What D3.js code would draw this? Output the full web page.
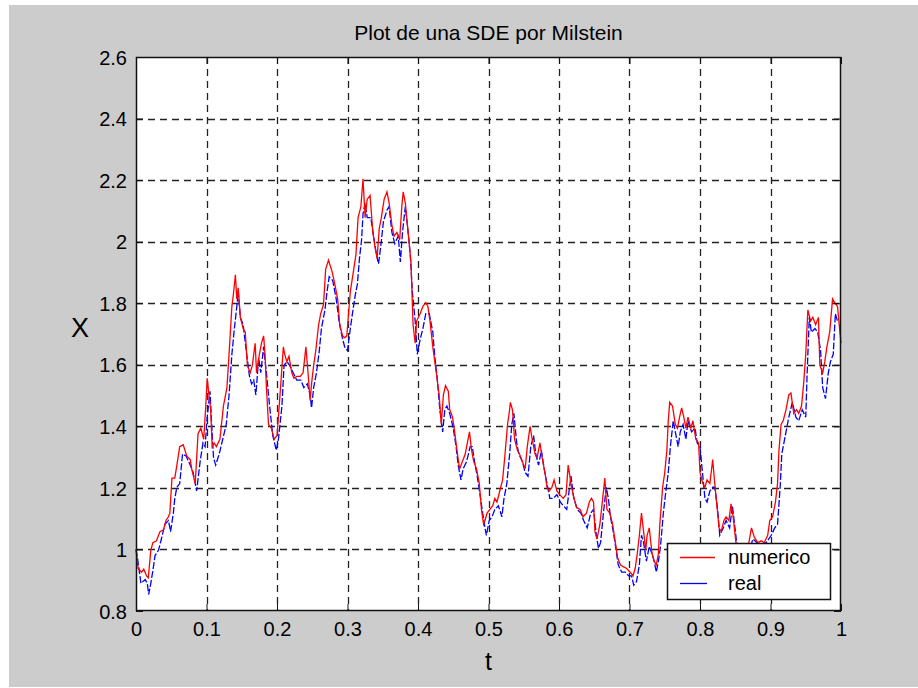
<!DOCTYPE html>
<html><head><meta charset="utf-8">
<script src="https://cdn.jsdelivr.net/npm/d3@7"></script>
<style>
html,body{margin:0;padding:0;background:#fff;}
svg{display:block;}
text{font-family:"Liberation Sans",Arial,sans-serif;fill:#000;}
</style></head>
<body>
<svg id="chart" width="918" height="688"></svg>
<script>
const title = "Plot de una SDE por Milstein";
const xLabel = "t";
const yLabel = "X";
const xTicks = [0,0.1,0.2,0.3,0.4,0.5,0.6,0.7,0.8,0.9,1];
const yTicks = [0.8,1,1.2,1.4,1.6,1.8,2,2.2,2.4,2.6];
const seriesNames = ["numerico","real"];

const tNum = [0,.003,.008,.011,.015,.0175,.021,.024,.029,.034,.039,.0425,.046,.048,.051,.055,.058,.062,.067,.072,.077,.079,.084,.088,.092,.096,.099,.101,.104,.106,.108,.111,.114,.119,.124,.129,.132,.136,.138,.141,.143,.145,.148,.152,.155,.158,.162,.165,.169,.171,.175,.178,.181,.183,.185,.188,.192,.196,.2,.202,.205,.209,.211,.214,.217,.221,.224,.228,.233,.237,.241,.244,.247,.249,.252,.255,.259,.262,.266,.269,.273,.278,.282,.286,.289,.293,.296,
.299,.304,.308,.312,.315,.319,.322,.325,.328,.332,.336,.339,.342,.345,.348,.352,.356,.359,.363,.366,.37,.374,.377,.379,.382,.385,.387,.39,.393,.396,.398,.403,.407,.411,.414,.417,.421,.426,.43,.433,.436,.439,.443,.445,.449,.452,.456,.459,.463,.467,.47,.473,.476,.479,.483,.487,.49,.493,.495,.498,.502,.506,.509,.512,.516,.52,.523,.527,.53,.531,.534,.537,.541,.544,.548,.552,.555,.559,.562,.566,.569,.573,.576,.58,.583,.586,.59,.593,.597,
.601,.606,.61,.613,.617,.62,.625,.63,.634,.639,.643,.646,.649,.651,.654,.658,.662,.665,.668,.672,.676,.68,.683,.687,.691,.696,.701,.705,.708,.711,.714,.717,.72,.723,.725,.728,.732,.735,.738,.741,.743,.747,.75,.753,.755,.757,.761,.765,.768,.771,.774,.777,.78,.783,.787,.79,.794,.798,.8,.804,.807,.81,.814,.818,.82,.824,.827,.83,.834,.837,.841,.844,.847,.851,.857,.866,.873,.877,.882,.887,.891,.896,.899,.903,.907,.91,.912,.915,.918,.922,.926,.929,.933,.937,.94,.944,.947,.95,.953,.957,.96,.964,.968,.97,.974,.977,.98,.984,.988,.991,.995,.998,1];
const xNum = [1.0,.938,.926,.936,.914,.908,.998,1.022,1.028,1.058,1.064,1.094,1.106,1.118,1.232,1.232,1.274,1.334,1.34,1.304,1.292,1.262,1.214,1.376,1.394,1.358,1.466,1.556,1.49,1.454,1.334,1.346,1.334,1.358,1.466,1.526,1.634,1.79,1.826,1.892,1.814,1.85,1.754,1.718,1.706,1.598,1.574,1.598,1.67,1.574,1.634,1.67,1.694,1.634,1.526,1.406,1.394,1.358,1.37,1.43,1.526,1.658,1.634,1.61,1.628,1.574,1.556,1.562,1.562,1.574,1.658,1.574,1.484,1.538,1.598,1.646,1.73,1.766,1.796,1.91,1.94,1.904,1.862,1.814,1.73,1.694,1.688,
1.694,1.838,1.898,1.958,2.078,2.114,2.204,2.078,2.138,2.15,2.03,1.982,1.946,2.042,2.078,2.138,2.162,2.126,2.054,2.018,2.03,2.006,2.114,2.162,2.126,2.054,2.006,1.934,1.73,1.67,1.742,1.766,1.79,1.802,1.79,1.742,1.658,1.574,1.502,1.406,1.502,1.532,1.514,1.454,1.43,1.382,1.31,1.262,1.286,1.31,1.346,1.382,1.322,1.286,1.262,1.214,1.13,1.082,1.094,1.118,1.13,1.142,1.166,1.154,1.19,1.226,1.298,1.406,1.454,1.478,1.454,1.358,1.322,1.31,1.286,1.262,1.334,1.4,1.358,1.31,1.298,1.346,1.298,1.25,1.202,1.19,1.202,1.226,1.19,
1.178,1.166,1.178,1.274,1.214,1.178,1.136,1.13,1.106,1.118,1.154,1.166,1.154,1.058,1.034,1.082,1.166,1.232,1.13,1.118,1.082,1.022,.974,.95,.944,.938,.926,.914,.938,.986,1.046,1.118,1.058,.998,1.046,1.07,.986,.962,.95,.986,1.082,1.202,1.25,1.322,1.418,1.478,1.466,1.406,1.394,1.43,1.46,1.43,1.394,1.43,1.394,1.418,1.358,1.346,1.25,1.214,1.202,1.226,1.214,1.292,1.238,1.142,1.07,1.058,1.094,1.106,1.094,1.148,1.106,1.022,1.0,.98,1.07,1.04,1.022,1.028,1.022,1.046,1.094,1.106,1.154,1.214,1.322,1.406,1.418,1.454,1.502,1.508,1.442,1.454,1.442,1.466,1.538,1.634,1.778,1.742,1.754,1.73,1.754,1.598,1.574,1.61,1.658,1.706,1.814,1.802,1.79,1.718,1.67];

const tReal = [0,.002,.007,.013,.016,.018,.021,.024,.027,.032,.036,.041,.046,.049,.053,.055,.058,.062,.066,.071,.077,.081,.086,.091,.095,.098,.101,.105,.107,.11,.113,.118,.123,.128,.132,.136,.139,.143,.145,.148,.152,.157,.161,.164,.167,.17,.174,.177,.181,.185,.189,.194,.199,.202,.207,.21,.214,.218,.223,.228,.234,.238,.243,.247,.249,.252,.256,.26,.263,.268,.271,.274,.279,.284,.288,.292,.296,.3,.304,.307,.311,.314,.317,.32,.322,
.325,.328,.333,.337,.341,.344,.347,.351,.356,.359,.363,.367,.372,.375,.378,.382,.385,.389,.392,.396,.399,.403,.407,.411,.416,.421,.424,.427,.431,.435,.438,.441,.445,.45,.454,.457,.461,.464,.469,.474,.477,.481,.484,.488,.491,.495,.497,.501,.505,.509,.514,.519,.522,.526,.53,.533,.536,.54,.543,.548,.552,.556,.56,.564,.567,.571,.575,.579,.583,.587,.592,.597,.602,.606,
.611,.617,.621,.626,.631,.635,.64,.645,.649,.653,.656,.659,.663,.667,.67,.673,.677,.681,.684,.689,.694,.699,.703,.706,.71,.714,.717,.72,.724,.728,.732,.735,.738,.741,.744,.748,.751,.755,.758,.762,.766,.769,.772,.776,.78,.783,.788,.793,.796,.8,.804,.807,.81,.814,.818,.821,.825,.828,.833,.837,.842,.846,.849,.852,.86,.868,.875,.884,.894,.901,.906,.91,.914,.916,.921,.926,.931,.936,.94,.945,.95,.952,.955,.958,.963,.967,.971,.974,.978,.982,.985,.989,.992,.995];
const xReal = [1.0,.974,.89,.902,.89,.854,.89,.932,.98,.998,1.034,1.082,1.094,1.058,1.118,1.166,1.202,1.214,1.31,1.304,1.274,1.25,1.19,1.286,1.346,1.334,1.43,1.514,1.418,1.298,1.274,1.31,1.358,1.406,1.502,1.634,1.706,1.79,1.838,1.754,1.73,1.634,1.562,1.538,1.55,1.502,1.622,1.574,1.658,1.574,1.478,1.37,1.322,1.358,1.466,1.598,1.61,1.598,1.574,1.55,1.55,1.526,1.538,1.502,1.46,1.526,1.574,1.646,1.718,1.778,1.838,1.886,1.874,1.814,1.742,1.694,1.658,1.646,1.718,1.766,1.826,1.862,1.946,2.006,2.09,
2.126,2.078,2.078,2.018,1.958,1.928,1.982,2.066,2.102,2.114,2.03,1.994,2.018,1.934,2.03,2.114,2.054,1.958,1.838,1.742,1.634,1.682,1.718,1.766,1.766,1.706,1.622,1.562,1.454,1.382,1.454,1.466,1.442,1.394,1.334,1.274,1.226,1.262,1.286,1.334,1.334,1.274,1.238,1.178,1.13,1.07,1.046,1.094,1.106,1.13,1.142,1.106,1.166,1.214,1.31,1.406,1.442,1.346,1.31,1.286,1.25,1.238,1.334,1.37,1.31,1.274,1.322,1.262,1.214,1.166,1.166,1.178,1.154,1.142,
1.13,1.238,1.166,1.13,1.118,1.094,1.07,1.118,1.13,1.046,1.004,1.022,1.118,1.202,1.166,1.106,1.058,.998,.95,.926,.926,.914,.914,.884,.896,.95,1.046,1.022,.962,1.01,.986,.962,.926,.962,1.01,1.118,1.178,1.25,1.334,1.418,1.37,1.334,1.382,1.406,1.358,1.418,1.382,1.394,1.346,1.334,1.238,1.166,1.154,1.19,1.202,1.202,1.13,1.046,1.07,1.094,1.07,1.142,1.082,1.022,.99,.98,1.034,1.016,1.022,1.046,1.07,1.082,1.214,1.31,1.37,1.43,1.478,1.43,1.418,1.454,1.43,1.574,1.754,1.706,1.718,1.706,1.646,1.526,1.49,1.574,1.61,1.634,1.766,1.742];

const svg = d3.select("#chart");
const L = 136, R = 841, T = 57, B = 611;

// figure background
svg.append("rect").attr("x",0).attr("y",0).attr("width",918).attr("height",688).attr("fill","#ffffff");
svg.append("rect").attr("x",9).attr("y",5).attr("width",909).attr("height",682).attr("fill","#cccccc");

const x = d3.scaleLinear().domain([0,1]).range([L,R]);
const y = d3.scaleLinear().domain([0.8,2.6]).range([B,T]);

svg.append("rect").attr("x",L).attr("y",T).attr("width",R-L).attr("height",B-T).attr("fill","#ffffff");

const plot = svg.append("g");
// grid
plot.append("g").selectAll("line").data(xTicks.slice(1,-1)).join("line")
  .attr("x1",d=>Math.round(x(d))+0.5).attr("x2",d=>Math.round(x(d))+0.5)
  .attr("y1",T).attr("y2",B)
  .attr("stroke","#222").attr("stroke-width",1.3).attr("stroke-dasharray","7,5");
plot.append("g").selectAll("line").data(yTicks.slice(1,-1)).join("line")
  .attr("y1",d=>Math.round(y(d))+0.5).attr("y2",d=>Math.round(y(d))+0.5)
  .attr("x1",L).attr("x2",R)
  .attr("stroke","#222").attr("stroke-width",1.3).attr("stroke-dasharray","7,5");

// series
const numData = tNum.map((t,i)=>[t,xNum[i]]);
const realData = tReal.map((t,i)=>[t,xReal[i]]);
const line = d3.line().x(d=>x(d[0])).y(d=>y(d[1]));
plot.append("path").datum(realData).attr("d",line)
  .attr("fill","none").attr("stroke","#0000ff").attr("stroke-width",1.3)
  .attr("stroke-dasharray","7,2");
plot.append("path").datum(numData).attr("d",line)
  .attr("fill","none").attr("stroke","#ff0000").attr("stroke-width",1.3);

// axes box
svg.append("rect").attr("x",L+0.5).attr("y",T+0.5).attr("width",R-L-1).attr("height",B-T-1)
  .attr("fill","none").attr("stroke","#111").attr("stroke-width",1.5);

// axes with inward ticks
const xAxisB = d3.axisBottom(x).tickValues(xTicks).tickSize(-7).tickPadding(16).tickFormat(d3.format("~g"));
const gxb = svg.append("g").attr("transform",`translate(0,${B})`).call(xAxisB);
const gxt = svg.append("g").attr("transform",`translate(0,${T})`).call(d3.axisTop(x).tickValues(xTicks).tickSize(-7).tickFormat(""));
const yAxisL = d3.axisLeft(y).tickValues(yTicks).tickSize(-7).tickPadding(16).tickFormat(d3.format("~g"));
const gyl = svg.append("g").attr("transform",`translate(${L},0)`).call(yAxisL);
const gyr = svg.append("g").attr("transform",`translate(${R},0)`).call(d3.axisRight(y).tickValues(yTicks).tickSize(-7).tickFormat(""));
[gxb,gxt,gyl,gyr].forEach(g=>{
  g.select(".domain").remove();
  g.selectAll(".tick line").attr("stroke","#111").attr("stroke-width",1);
  g.selectAll("text").attr("font-family","Liberation Sans, Arial, sans-serif").attr("font-size",20).attr("fill","#000");
});
gxb.selectAll("text").attr("dy","0.45em");
gyl.selectAll("text").attr("dx","7").attr("dy","0.36em");

// titles
svg.append("text").attr("x",(L+R)/2).attr("y",40).attr("text-anchor","middle").attr("font-size",21).text(title);
svg.append("text").attr("x",(L+R)/2).attr("y",670).attr("text-anchor","middle").attr("font-size",25).text(xLabel);
svg.append("text").attr("x",80).attr("y",337).attr("text-anchor","middle").attr("font-size",27).text(yLabel);

// legend
const lg = svg.append("g");
lg.append("rect").attr("x",667.5).attr("y",543.5).attr("width",163).attr("height",56)
  .attr("fill","#fff").attr("stroke","#111").attr("stroke-width",1.5);
const legendItems = [{name:seriesNames[0],color:"#ff0000",dash:null,cy:557},{name:seriesNames[1],color:"#0000ff",dash:"27,8",cy:583}];
legendItems.forEach(it=>{
  lg.append("line").attr("x1",680).attr("x2",715).attr("y1",it.cy+0.5).attr("y2",it.cy+0.5)
    .attr("stroke",it.color).attr("stroke-width",1.3).attr("stroke-dasharray",it.dash);
  lg.append("text").attr("x",728).attr("y",it.cy+7).attr("font-size",20).text(it.name);
});
</script>
</body></html>
